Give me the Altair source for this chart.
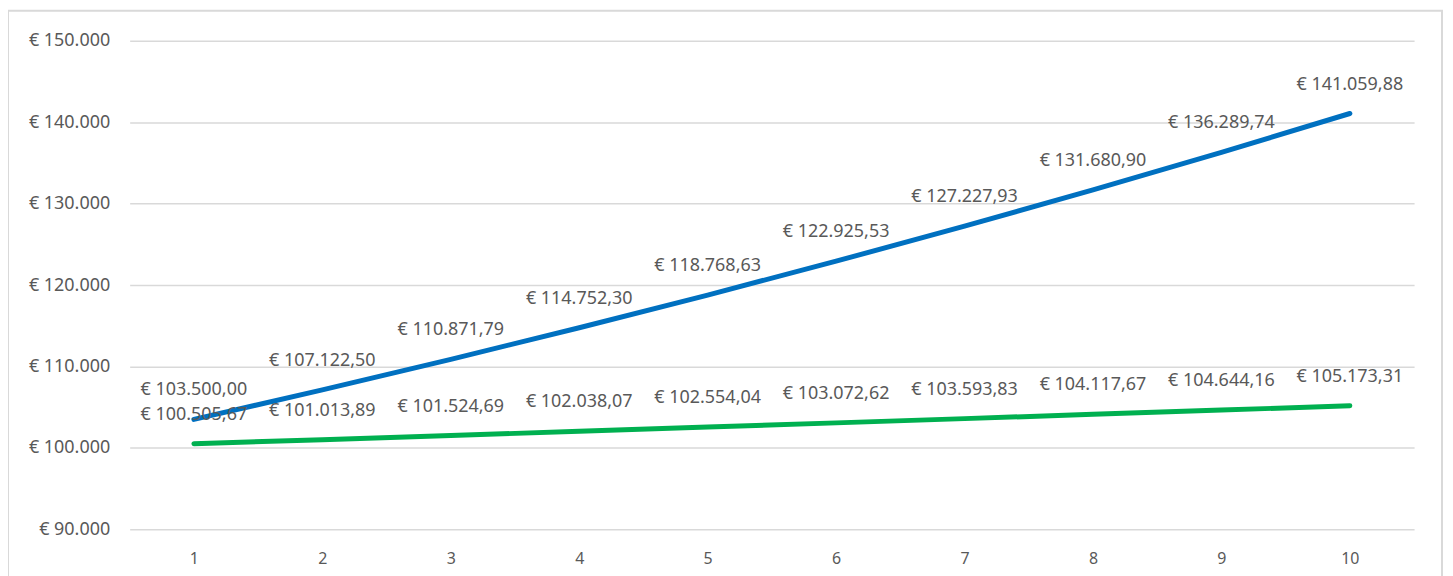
import altair as alt
import pandas as pd

years = [1, 2, 3, 4, 5, 6, 7, 8, 9, 10]
series_a = [103500.00, 107122.50, 110871.79, 114752.30, 118768.63,
            122925.53, 127227.93, 131680.90, 136289.74, 141059.88]
series_b = [100505.67, 101013.89, 101524.69, 102038.07, 102554.04,
            103072.62, 103593.83, 104117.67, 104644.16, 105173.31]
y_ticks = [90000, 100000, 110000, 120000, 130000, 140000, 150000]

rows = []
for x, a, b in zip(years, series_a, series_b):
    rows.append({"x": x, "value": a, "series": "A"})
    rows.append({"x": x, "value": b, "series": "B"})
df = pd.DataFrame(rows)

FONT = "Noto Sans"
GREY = "#595959"

x_enc = alt.X("x:O", scale=alt.Scale(type="point", padding=0.5),
              axis=alt.Axis(title=None, labelAngle=0, domain=False, ticks=False,
                            labelPadding=21, labelFontSize=16, labelColor=GREY,
                            labelFont=FONT, grid=False))
y_enc = alt.Y("value:Q", scale=alt.Scale(domain=[90000, 150000], nice=False, zero=False),
              axis=alt.Axis(title=None, values=y_ticks, format="$,.0f", domain=False,
                            ticks=False, labelPadding=20, labelFontSize=18,
                            labelColor=GREY, labelFont=FONT, grid=True,
                            gridColor="#D9D9D9", gridWidth=1.5))
color = alt.Color("series:N", scale=alt.Scale(domain=["A", "B"], range=["#0070C0", "#00B050"]),
                  legend=None)

base = alt.Chart(df)

border = alt.Chart(pd.DataFrame({"v": [0]})).mark_rect(
    fill=None, stroke="#D9D9D9", strokeWidth=2
).encode(x=alt.value(-122), x2=alt.value(1316), y=alt.value(-30), y2=alt.value(600))

lines = base.mark_line(strokeWidth=5, strokeCap="round", strokeJoin="round").encode(
    x=x_enc, y=y_enc, color=color
)
labels = base.mark_text(dy=-29, fontSize=18, color=GREY, font=FONT).encode(
    x="x:O", y="value:Q", text=alt.Text("value:Q", format="$,.2f")
)

chart = alt.layer(border, lines, labels).properties(
    width=1288, height=490,
    autosize=alt.AutoSizeParams(type="none"),
    padding={"left": 122, "top": 32, "right": 31, "bottom": 46},
).configure_view(stroke=None)

chart.save("out.html", embed_options={
    "renderer": "svg", "actions": False,
    "formatLocale": {"decimal": ",", "thousands": ".", "grouping": [3],
                     "currency": ["€ ", ""]},
})
